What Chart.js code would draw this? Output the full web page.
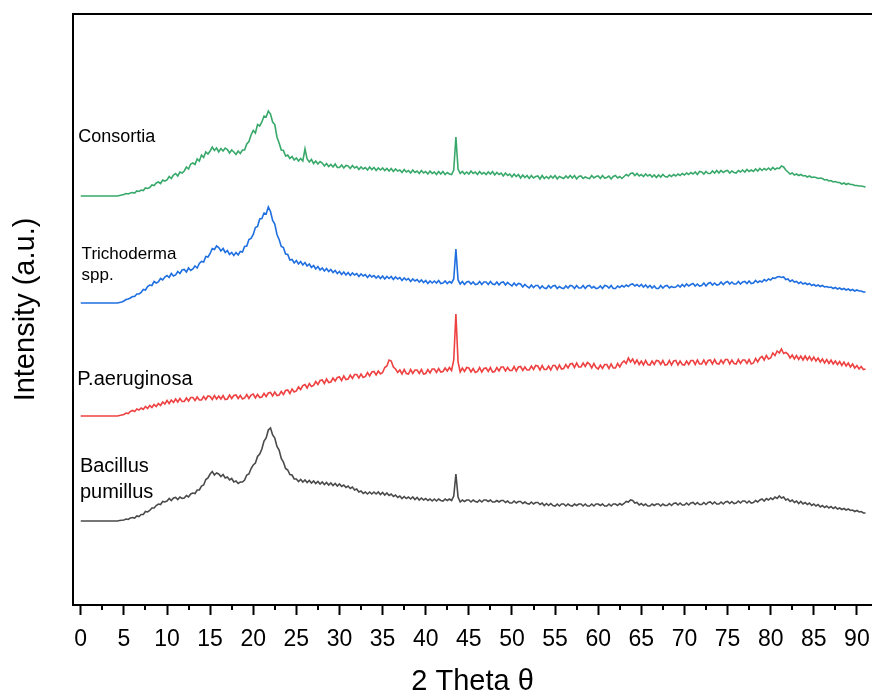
<!DOCTYPE html>
<html>
<head>
<meta charset="utf-8">
<script src="https://cdn.jsdelivr.net/npm/chart.js@4"></script>
<style>
  html, body { margin: 0; padding: 0; background: #fff; }
  #xrd { display: block; }
</style>
</head>
<body>
<canvas id="xrd" width="872" height="693"></canvas>
<script>
// XRD 图谱数据: 2θ 与各样品的相对强度 (每行 2°)
const theta = [
  0, 0.25, 0.5, 0.75, 1, 1.25, 1.5, 1.75,
  2, 2.25, 2.5, 2.75, 3, 3.25, 3.5, 3.75,
  4, 4.25, 4.5, 4.75, 5, 5.25, 5.5, 5.75,
  6, 6.25, 6.5, 6.75, 7, 7.25, 7.5, 7.75,
  8, 8.25, 8.5, 8.75, 9, 9.25, 9.5, 9.75,
  10, 10.25, 10.5, 10.75, 11, 11.25, 11.5, 11.75,
  12, 12.25, 12.5, 12.75, 13, 13.25, 13.5, 13.75,
  14, 14.25, 14.5, 14.75, 15, 15.25, 15.5, 15.75,
  16, 16.25, 16.5, 16.75, 17, 17.25, 17.5, 17.75,
  18, 18.25, 18.5, 18.75, 19, 19.25, 19.5, 19.75,
  20, 20.25, 20.5, 20.75, 21, 21.25, 21.5, 21.75,
  22, 22.25, 22.5, 22.75, 23, 23.25, 23.5, 23.75,
  24, 24.25, 24.5, 24.75, 25, 25.25, 25.5, 25.75,
  26, 26.25, 26.5, 26.75, 27, 27.25, 27.5, 27.75,
  28, 28.25, 28.5, 28.75, 29, 29.25, 29.5, 29.75,
  30, 30.25, 30.5, 30.75, 31, 31.25, 31.5, 31.75,
  32, 32.25, 32.5, 32.75, 33, 33.25, 33.5, 33.75,
  34, 34.25, 34.5, 34.75, 35, 35.25, 35.5, 35.75,
  36, 36.25, 36.5, 36.75, 37, 37.25, 37.5, 37.75,
  38, 38.25, 38.5, 38.75, 39, 39.25, 39.5, 39.75,
  40, 40.25, 40.5, 40.75, 41, 41.25, 41.5, 41.75,
  42, 42.25, 42.5, 42.75, 43, 43.25, 43.5, 43.75,
  44, 44.25, 44.5, 44.75, 45, 45.25, 45.5, 45.75,
  46, 46.25, 46.5, 46.75, 47, 47.25, 47.5, 47.75,
  48, 48.25, 48.5, 48.75, 49, 49.25, 49.5, 49.75,
  50, 50.25, 50.5, 50.75, 51, 51.25, 51.5, 51.75,
  52, 52.25, 52.5, 52.75, 53, 53.25, 53.5, 53.75,
  54, 54.25, 54.5, 54.75, 55, 55.25, 55.5, 55.75,
  56, 56.25, 56.5, 56.75, 57, 57.25, 57.5, 57.75,
  58, 58.25, 58.5, 58.75, 59, 59.25, 59.5, 59.75,
  60, 60.25, 60.5, 60.75, 61, 61.25, 61.5, 61.75,
  62, 62.25, 62.5, 62.75, 63, 63.25, 63.5, 63.75,
  64, 64.25, 64.5, 64.75, 65, 65.25, 65.5, 65.75,
  66, 66.25, 66.5, 66.75, 67, 67.25, 67.5, 67.75,
  68, 68.25, 68.5, 68.75, 69, 69.25, 69.5, 69.75,
  70, 70.25, 70.5, 70.75, 71, 71.25, 71.5, 71.75,
  72, 72.25, 72.5, 72.75, 73, 73.25, 73.5, 73.75,
  74, 74.25, 74.5, 74.75, 75, 75.25, 75.5, 75.75,
  76, 76.25, 76.5, 76.75, 77, 77.25, 77.5, 77.75,
  78, 78.25, 78.5, 78.75, 79, 79.25, 79.5, 79.75,
  80, 80.25, 80.5, 80.75, 81, 81.25, 81.5, 81.75,
  82, 82.25, 82.5, 82.75, 83, 83.25, 83.5, 83.75,
  84, 84.25, 84.5, 84.75, 85, 85.25, 85.5, 85.75,
  86, 86.25, 86.5, 86.75, 87, 87.25, 87.5, 87.75,
  88, 88.25, 88.5, 88.75, 89, 89.25, 89.5, 89.75,
  90, 90.25, 90.5, 90.75, 91
];

const consortia = [
  0, 0, 0, 0, 0, 0, 0, 0,
  0, 0, 0, 0, 0, 0, 0, 0,
  0, 0, 0.5, 1, 1.5, 2.5, 2, 3,
  3.5, 3, 5, 4.5, 6, 5.5, 8, 7.5,
  8.5, 11, 10.5, 13, 14, 12.5, 16, 15,
  16, 19.5, 17.5, 21, 22.5, 20, 24, 23,
  25, 29, 27, 32, 33, 31.5, 37, 35,
  41, 38.5, 44, 42, 45, 49, 45.5, 48,
  44, 47.5, 45, 48, 46.5, 43, 46, 44,
  41.5, 45, 42.5, 46, 46, 52, 54.5, 61,
  65.5, 63, 71.5, 70, 74, 80, 79, 85,
  82, 74, 71.5, 59, 53, 46, 45.5, 40,
  41, 37.5, 39.5, 36, 38, 35, 37.5, 35,
  47, 37, 34, 36.5, 32.5, 35, 32, 34.5,
  33, 30, 32.5, 29.5, 31.5, 29, 32, 28.5,
  28.5, 31, 28, 30.5, 30, 27.5, 30.5, 28,
  29.5, 26.5, 29, 27, 28.5, 26, 29, 26.5,
  28.5, 25.5, 28, 26, 28, 25.5, 27.5, 25,
  27.5, 24.5, 27, 25, 26, 23.5, 26.5, 24,
  25.5, 23, 26, 23.5, 25, 22.5, 25.5, 23,
  24.5, 22, 25, 22.5, 24, 21.5, 24.5, 22,
  24.5, 21.5, 23.5, 22, 21.5, 26, 59, 27,
  22.5, 24.5, 22, 24, 22, 25, 22.5, 24,
  21.5, 24.5, 22, 23.5, 21.5, 24, 22, 24.5,
  21, 23.5, 21.5, 23, 20, 23, 20.5, 22,
  19, 22, 19.5, 21.5, 18, 21, 18.5, 20.5,
  17.5, 20.5, 18, 19.5, 20, 17, 20.5, 17.5,
  19.5, 17.5, 20, 18, 20.5, 17, 19.5, 18.5,
  17.5, 20, 18, 20.5, 18, 20.5, 17, 19.5,
  20, 17.5, 19, 18, 17.5, 20.5, 18, 19.5,
  20, 17.5, 20.5, 18, 18.5, 20, 17, 19.5,
  20.5, 18, 19.5, 17.5, 19.5, 21.5, 20, 22.5,
  23, 20.5, 22.5, 20, 21.5, 19.5, 22, 20,
  21.5, 19, 21, 18.5, 21, 19, 21.5, 19.5,
  19, 21, 19.5, 21.5, 20, 22, 20.5, 22.5,
  21, 23, 21.5, 23.5, 22, 24, 21.5, 24.5,
  24, 22, 24.5, 22.5, 22.5, 25, 23, 25.5,
  23, 25.5, 23.5, 25, 25.5, 23, 25, 23.5,
  23, 25.5, 24, 26, 24, 26.5, 24.5, 26,
  24.5, 27, 25, 27.5, 25.5, 27.5, 26, 28,
  26, 28.5, 26.5, 28, 27.5, 30, 29, 26,
  24, 22, 23, 21, 22, 20.5, 21.5, 20,
  20.5, 19, 20, 18.5, 19, 18.5, 17.5, 18,
  17.5, 16, 16.5, 15, 15.5, 14, 14.5, 13.5,
  13.5, 12, 13, 11.5, 12.5, 11.5, 11.5, 10.5,
  10.5, 10, 10, 9.5, 9
];

const trichoderma = [
  0, 0, 0, 0, 0, 0, 0, 0,
  0, 0, 0, 0, 0, 0, 0, 0,
  0, 0, 0.5, 1, 2, 3.5, 4, 5,
  6.5, 6.5, 9, 9, 10.5, 13.5, 13, 16.5,
  18, 17.5, 21.5, 20, 21, 24.5, 23, 26,
  27.5, 25.5, 29.5, 27, 28, 31.5, 29.5, 33,
  33.5, 31, 35, 32.5, 34, 37, 35, 39.5,
  41.5, 41, 46.5, 46, 49.5, 54.5, 53.5, 57,
  55.5, 52, 54.5, 50.5, 52.5, 48.5, 50.5, 47.5,
  50.5, 48, 51.5, 51, 56.5, 57, 63.5, 64.5,
  68.5, 75.5, 76.5, 84, 84.5, 90, 89, 96,
  91.5, 82.5, 79, 68.5, 63.5, 56.5, 55.5, 49,
  48.5, 43, 43.5, 40, 42.5, 39, 41.5, 38,
  40.5, 37, 39, 35.5, 37.5, 34, 36.5, 33,
  35, 32, 34.5, 31.5, 33.5, 30.5, 32.5, 29.5,
  31.5, 28.5, 31, 28, 30.5, 27.5, 30, 28,
  29.5, 26.5, 29, 27, 28.5, 25.5, 28, 26,
  27.5, 25, 27, 24.5, 27, 24, 26.5, 24.5,
  26.5, 23.5, 26, 24, 25.5, 22.5, 25, 23,
  24.5, 21.5, 24, 22, 23.5, 21, 23, 20.5,
  22.5, 19.5, 22, 20, 22, 20, 22.5, 19.5,
  20, 22, 19.5, 21.5, 20, 24, 54, 23,
  19, 21.5, 18.5, 21, 21.5, 19, 21, 18.5,
  19, 21.5, 18.5, 21, 21, 18.5, 21.5, 19,
  18.5, 21, 18, 20.5, 21, 18, 20.5, 18.5,
  17, 20, 17.5, 19.5, 19, 16, 18.5, 16.5,
  15, 18, 15.5, 17.5, 17.5, 14.5, 17, 15,
  14.5, 17.5, 15, 17, 17.5, 14.5, 16.5, 15,
  14.5, 17, 15, 17.5, 17, 14.5, 17.5, 15,
  15, 17.5, 14.5, 17, 17.5, 15, 16.5, 14.5,
  15, 17, 14.5, 17.5, 17, 15, 17.5, 14.5,
  14.5, 17, 15.5, 17.5, 16, 18, 16.5, 18.5,
  19, 17, 18.5, 16.5, 18.5, 16, 18, 15.5,
  17.5, 15, 17, 14.5, 14.5, 17.5, 15, 17,
  17.5, 15, 16.5, 15.5, 16, 18, 16, 18.5,
  16.5, 19, 17, 18.5, 19.5, 17, 19, 17,
  17.5, 20, 17, 19.5, 20.5, 18, 20, 18,
  18.5, 21, 18.5, 20.5, 21.5, 19, 21, 19,
  19, 21.5, 19, 21, 21.5, 19.5, 22, 19.5,
  20, 22.5, 20.5, 22, 21, 23.5, 22, 24,
  23, 25, 24.5, 26, 26.5, 25.5, 26, 23.5,
  24, 21.5, 23, 21, 21.5, 19.5, 21, 19,
  20, 18.5, 19.5, 17.5, 18.5, 17, 18, 16.5,
  17.5, 16, 16.5, 15.5, 16, 14.5, 15.5, 14,
  15, 13.5, 14.5, 13, 14, 12.5, 13.5, 12,
  13, 12, 12, 11, 11
];

const aeruginosa = [
  0, 0, 0, 0, 0, 0, 0, 0,
  0, 0, 0, 0, 0, 0, 0, 0,
  0, 0, 0.5, 1, 1.5, 3, 2.5, 4.5,
  5.5, 4.5, 7, 6, 8, 6.5, 9.5, 7.5,
  10.5, 8.5, 11.5, 9.5, 12.5, 10.5, 14, 12,
  15.5, 12.5, 16, 13.5, 17, 14, 17.5, 14.5,
  14.5, 18, 15, 18.5, 18.5, 15.5, 19, 16,
  16, 19.5, 16.5, 20, 19.5, 16.5, 20.5, 17,
  20, 17, 20.5, 16.5, 17, 21, 17.5, 20.5,
  21, 17.5, 20.5, 17, 18, 21.5, 17.5, 21,
  22, 18, 21.5, 18.5, 19, 22.5, 19.5, 23,
  23.5, 20, 24, 20.5, 21, 24.5, 21.5, 25.5,
  26, 22.5, 27, 24, 25, 29, 26.5, 30.5,
  31.5, 28, 32.5, 29.5, 30.5, 34.5, 31.5, 35.5,
  36, 32.5, 37, 33.5, 34, 38, 35, 38.5,
  39, 35.5, 40, 36.5, 37, 41, 37.5, 41.5,
  41.5, 38, 42, 38.5, 39.5, 43.5, 40, 44,
  44.5, 41, 45, 42, 43.5, 48.5, 50, 56,
  55, 49, 47, 43.5, 46, 42, 46.5, 42.5,
  42, 46.5, 42.5, 46, 46, 42.5, 46.5, 42,
  42.5, 46.5, 43, 47, 47, 43.5, 47.5, 44,
  44.5, 48, 45, 48.5, 45.5, 56, 102, 54,
  44, 48, 44.5, 48.5, 48, 44, 47.5, 43.5,
  44.5, 48.5, 44, 47.5, 48, 44.5, 48.5, 44,
  44.5, 48.5, 45, 49, 49, 45, 48.5, 45.5,
  45.5, 49.5, 45, 49, 49.5, 45.5, 49, 46,
  46, 50, 46.5, 50.5, 50, 46, 50.5, 46.5,
  46.5, 50, 46, 50.5, 50.5, 46.5, 51, 47,
  47.5, 51.5, 48, 52, 52.5, 48.5, 53, 49,
  49, 53, 49.5, 53.5, 52, 48, 52.5, 48.5,
  47, 51, 47.5, 51.5, 51.5, 47.5, 52, 48,
  48, 52.5, 49, 53, 55, 52.5, 58, 54,
  57, 52.5, 56, 51.5, 55, 51, 55.5, 51.5,
  51, 55, 51.5, 55.5, 55, 51.5, 55.5, 51,
  51.5, 55.5, 51, 55, 55.5, 51, 55, 51.5,
  51, 55, 51.5, 55.5, 55.5, 51.5, 56, 52,
  52, 56, 51.5, 55.5, 56, 52, 56.5, 52.5,
  52, 56, 52.5, 56.5, 56.5, 52, 56, 52.5,
  52, 56.5, 52.5, 56, 56, 52.5, 56.5, 52,
  53, 57.5, 54, 58, 59.5, 56, 60.5, 57,
  58, 63, 60.5, 65, 63, 67, 62.5, 63.5,
  62, 58, 61, 57, 60.5, 56.5, 60, 56,
  60, 56, 59.5, 55.5, 59, 55, 58, 54,
  57, 53, 56.5, 52.5, 56, 52, 55, 51.5,
  54.5, 50.5, 54, 50, 53, 49, 52, 48,
  50.5, 47, 49.5, 46.5, 47
];

const bacillus = [
  0, 0, 0, 0, 0, 0, 0, 0,
  0, 0, 0, 0, 0, 0, 0, 0,
  0, 0, 0.5, 0.8, 1, 2, 1.5, 3,
  3.5, 3, 5, 4.5, 6.5, 6.5, 9.5, 9,
  10.5, 13, 13, 15.5, 17, 16.5, 19.5, 19,
  20, 22.5, 20.5, 23, 23.5, 21.5, 24, 22.5,
  23, 25.5, 24, 27, 28, 27.5, 31, 31,
  35, 36, 41.5, 43, 47, 49.5, 46, 48,
  47, 44.5, 46.5, 43, 44, 41, 42.5, 39,
  40, 37.5, 39, 39, 41, 46, 47, 52.5,
  56, 58, 64.5, 67, 72, 80, 83, 91,
  93, 86, 83, 74.5, 71, 62.5, 59, 52.5,
  51, 46.5, 46, 42, 42, 39.5, 41.5, 39,
  41, 38.5, 40.5, 38, 40, 37.5, 39.5, 37,
  39, 36.5, 38.5, 36, 38, 35.5, 37.5, 35,
  37, 34.5, 36, 33.5, 35, 32.5, 34, 31,
  32, 29, 30, 27.5, 29, 27, 29, 27,
  29, 27, 29, 26.5, 28.5, 26, 28, 25.5,
  27, 24.5, 26, 23.5, 25, 22.5, 24.5, 22.5,
  24, 22, 24, 21.5, 23.5, 21, 23, 21,
  22.5, 20.5, 22, 20, 22, 20, 22, 20.5,
  20, 22, 20.5, 22, 20.5, 25, 47, 24,
  19, 21, 19.5, 21, 21, 19, 21, 19.5,
  19, 21, 19, 21, 21, 19.5, 21, 19,
  19, 20.5, 19, 20.5, 20.5, 18.5, 20, 18,
  18, 20, 18, 19.5, 19.5, 17.5, 19, 17.5,
  17, 19, 17, 18.5, 18.5, 16.5, 18, 15.5,
  17.5, 15.5, 17.5, 15.5, 15, 17, 15, 17,
  17, 15, 17, 15.5, 15, 17, 15.5, 17,
  17, 15, 17, 15, 15, 17, 15, 17,
  17, 15.5, 17, 15, 15, 17, 15, 17,
  17, 15.5, 17.5, 16, 17.5, 19.5, 19, 21,
  20.5, 18, 18.5, 16, 17.5, 15.5, 17, 15,
  15, 17, 15.5, 17, 17, 15, 17, 15.5,
  15.5, 17.5, 15.5, 17.5, 18, 16, 18, 16,
  16, 18, 16, 18, 18.5, 16.5, 18.5, 16.5,
  16.5, 18.5, 16.5, 18.5, 19, 17, 19, 17,
  17, 19, 17, 19, 19.5, 17.5, 19.5, 17.5,
  18, 20, 18, 20, 20, 18, 20, 18,
  18.5, 20.5, 19, 21, 22, 20, 22.5, 21,
  23, 21.5, 24, 22.5, 25, 23, 24, 21,
  22, 19.5, 21, 18.5, 20, 17.5, 19.5, 17,
  18.5, 16.5, 18, 15.5, 17, 15, 16.5, 14,
  15.5, 13.5, 15, 13, 14.5, 12.5, 14, 12,
  13, 11.5, 12.5, 11, 12, 10.5, 11, 9.5,
  10.5, 9, 9.5, 8, 8
];

// 各曲线的纵向平移量 (堆叠显示)
const offsets = [409, 302, 189, 84];
const seriesNames = ['Consortia', 'Trichoderma spp.', 'P.aeruginosa', 'Bacillus pumillus'];
const seriesData = [consortia, trichoderma, aeruginosa, bacillus];
const colors = ['#38a96a', '#1f6fe0', '#ee4141', '#4a4a4a'];

// 坐标轴刻度
const majorTicks = [0, 5, 10, 15, 20, 25, 30, 35, 40, 45, 50, 55, 60, 65, 70, 75, 80, 85, 90];
const minorTicks = [2.5, 7.5, 12.5, 17.5, 22.5, 27.5, 32.5, 37.5, 42.5, 47.5, 52.5, 57.5, 62.5, 67.5, 72.5, 77.5, 82.5, 87.5];

// 样品名称标注 (文字行, 2θ位置, 纵坐标位置, 字号)
const sampleLabels = [
  { lines: ['Consortia'], x: -0.3, y: [468], size: 18 },
  { lines: ['Trichoderma', 'spp.'], x: 0.1, y: [351, 330], size: 17 },
  { lines: ['P.aeruginosa'], x: -0.4, y: [226], size: 20 },
  { lines: ['Bacillus', 'pumillus'], x: -0.1, y: [139, 113], size: 20 }
];

const FONT = '"Liberation Sans", Arial, Helvetica, sans-serif';

// 次刻度线
const minorTickPlugin = {
  id: 'minorTicks',
  afterDraw(chart) {
    const ctx = chart.ctx;
    const xs = chart.scales.x;
    const bottom = chart.chartArea.bottom;
    ctx.save();
    ctx.strokeStyle = '#000';
    ctx.lineWidth = 2;
    minorTicks.forEach(v => {
      const px = Math.round(xs.getPixelForValue(v));
      ctx.beginPath();
      ctx.moveTo(px, bottom);
      ctx.lineTo(px, bottom + 5);
      ctx.stroke();
    });
    ctx.restore();
  }
};

// 样品名称
const sampleLabelPlugin = {
  id: 'sampleLabels',
  afterDatasetsDraw(chart) {
    const ctx = chart.ctx;
    const xs = chart.scales.x;
    const ys = chart.scales.y;
    ctx.save();
    ctx.fillStyle = '#000';
    ctx.textAlign = 'left';
    ctx.textBaseline = 'middle';
    sampleLabels.forEach(lab => {
      ctx.font = lab.size + 'px ' + FONT;
      lab.lines.forEach((t, i) => {
        ctx.fillText(t, xs.getPixelForValue(lab.x), ys.getPixelForValue(lab.y[i]));
      });
    });
    ctx.restore();
  }
};

const datasets = seriesData.map((vals, i) => ({
  label: seriesNames[i],
  data: theta.map((t, k) => ({ x: t, y: vals[k] + offsets[i] })),
  borderColor: colors[i],
  borderWidth: 1.6,
  pointRadius: 0,
  tension: 0,
  fill: false
}));

new Chart(document.getElementById('xrd'), {
  type: 'line',
  data: { datasets },
  options: {
    responsive: false,
    animation: false,
    layout: { padding: 0 },
    plugins: {
      legend: { display: false },
      tooltip: { enabled: false }
    },
    scales: {
      x: {
        type: 'linear',
        position: 'bottom',
        min: -0.9,
        max: 91.75,
        afterBuildTicks(scale) {
          scale.ticks = majorTicks.map(v => ({ value: v }));
        },
        afterFit(scale) {
          // 轴线延伸到画布右边缘, 不为末端标签留白
          scale.height = 88;
          scale.paddingLeft = 0;
          scale.paddingRight = 0;
        },
        border: { display: true, color: '#000', width: 2 },
        grid: {
          display: true,
          drawOnChartArea: false,
          drawTicks: true,
          tickLength: 10,
          tickWidth: 2,
          tickColor: '#000'
        },
        ticks: {
          color: '#000',
          font: { family: FONT, size: 23 },
          padding: 11,
          maxRotation: 0,
          autoSkip: false
        },
        title: {
          display: true,
          text: '2 Theta θ',
          color: '#000',
          font: { family: FONT, size: 29, lineHeight: 1 },
          padding: { top: 4, bottom: -3 }
        }
      },
      xTop: {
        type: 'linear',
        position: 'top',
        min: -0.9,
        max: 91.75,
        afterFit(scale) {
          scale.height = 14;
          scale.paddingLeft = 0;
          scale.paddingRight = 0;
        },
        border: { display: true, color: '#000', width: 2 },
        grid: { display: false },
        ticks: { display: false }
      },
      y: {
        type: 'linear',
        min: 0,
        max: 591,
        afterFit(scale) { scale.width = 73; },
        border: { display: true, color: '#000', width: 2 },
        grid: { display: false },
        ticks: { display: false },
        title: {
          display: true,
          text: 'Intensity (a.u.)',
          color: '#000',
          font: { family: FONT, size: 29 },
          padding: { top: 9, bottom: 0 }
        }
      }
    }
  },
  plugins: [minorTickPlugin, sampleLabelPlugin]
});
</script>
</body>
</html>
